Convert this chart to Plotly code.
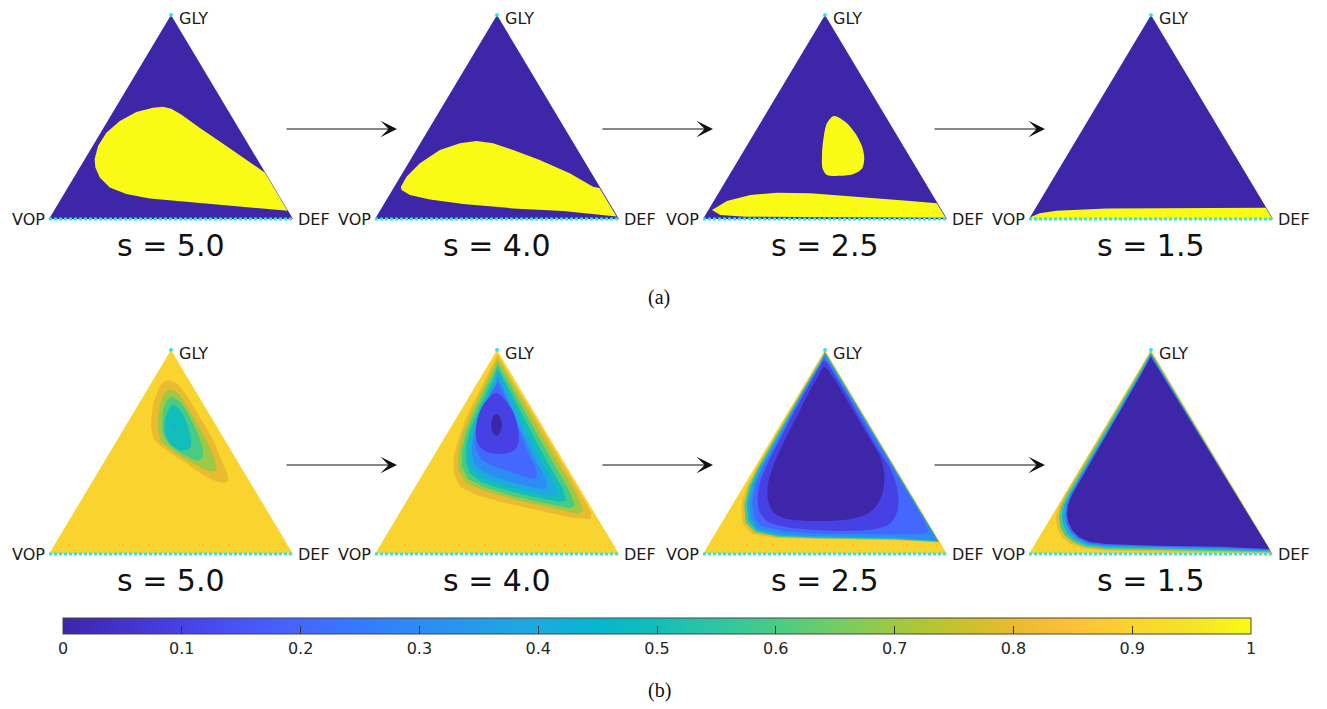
import plotly.graph_objects as go
from plotly.colors import sample_colorscale

# ------------------------------------------------------------------ data
S_VALUES = ["5.0", "4.0", "2.5", "1.5"]
CORNER_LABELS = ("VOP", "DEF", "GLY")
CBAR_TICKVALS = [0, 0.1, 0.2, 0.3, 0.4, 0.5, 0.6, 0.7, 0.8, 0.9, 1]
CBAR_TICKTEXT = ["0", "0.1", "0.2", "0.3", "0.4", "0.5", "0.6", "0.7", "0.8", "0.9", "1"]

# simplex vertices (VOP, DEF, GLY) in projection coords: x along VOP->DEF, y = GLY share
SIMPLEX = [(0.0, 0.0), (1.0, 0.0), (0.5, 1.0)]

# ---- row (a): regions where the indicator equals 1 (yellow); rest is 0
A50_YELLOW = [(.187, .293), (.201, .358), (.235, .423), (.290, .480), (.358, .524), (.426, .545),
              (.467, .550), (.501, .540), (.542, .512), (.617, .447), (.727, .358), (.822, .280),
              (.884, .228), (.978, .040), (.754, .065), (.549, .086), (.413, .101), (.317, .122),
              (.249, .154), (.208, .203), (.190, .252)]
A40_YELLOW = [(.106, .158), (.130, .208), (.184, .273), (.266, .338), (.348, .371), (.416, .382),
              (.484, .371), (.566, .338), (.675, .289), (.798, .224), (.894, .158), (.920, .152),
              (.990, .012), (.771, .039), (.566, .052), (.362, .074), (.225, .096), (.143, .118),
              (.109, .142)]
A25_YELLOW_TOP = [(.536, .505), (.583, .477), (.624, .420), (.652, .355), (.661, .297), (.652, .248),
                  (.617, .221), (.563, .212), (.508, .216), (.490, .248), (.488, .322), (.495, .404),
                  (.508, .469)]
A25_YELLOW_BOTTOM = [(.037, .044), (.098, .088), (.194, .118), (.303, .129), (.440, .126), (.577, .114),
                     (.713, .101), (.850, .088), (.958, .077), (.994, .006), (.800, .007), (.500, .008),
                     (.300, .010), (.174, .011), (.071, .020)]
A15_YELLOW = [(.006, .004), (.010, .011), (.044, .028), (.112, .041), (.317, .051), (.590, .052),
              (.795, .051), (.966, .052), (.970, .055), (.998, .000), (.006, .000)]

# ---- row (b): filled contour regions (value below level+0.1), coloured by level
B50_L08 = [(.488, .850), (.522, .837), (.563, .779), (.617, .673), (.672, .559), (.713, .444),
           (.734, .379), (.731, .355), (.706, .350), (.645, .379), (.563, .444), (.481, .510),
           (.433, .559), (.419, .624), (.426, .722), (.447, .804), (.467, .840)]
B50_L07 = [(.494, .807), (.535, .779), (.590, .673), (.645, .559), (.679, .461), (.686, .412),
           (.665, .404), (.604, .436), (.522, .493), (.460, .551), (.447, .624), (.454, .722),
           (.470, .779)]
B50_L06 = [(.501, .771), (.542, .739), (.590, .641), (.624, .542), (.631, .477), (.611, .458),
           (.556, .485), (.495, .534), (.467, .592), (.467, .690), (.481, .747)]
B50_L05 = [(.508, .730), (.542, .698), (.570, .624), (.583, .559), (.576, .518), (.542, .507),
           (.495, .542), (.474, .608), (.481, .681)]
B50_L04 = [(.519, .624), (.511, .637), (.503, .624), (.511, .611)]

B40_L08 = [(.502, .980), (.574, .828), (.664, .654), (.761, .458), (.843, .294), (.887, .203),
           (.883, .170), (.798, .180), (.662, .216), (.525, .253), (.416, .289), (.348, .330),
           (.323, .395), (.323, .477), (.341, .559), (.375, .673), (.423, .788), (.471, .902)]
B40_L07 = [(.502, .959), (.569, .820), (.655, .644), (.746, .458), (.825, .297), (.853, .216),
           (.836, .196), (.716, .229), (.580, .265), (.457, .306), (.375, .346), (.341, .412),
           (.341, .493), (.361, .592), (.400, .706), (.446, .820), (.484, .910)]
B40_L06 = [(.502, .935), (.561, .812), (.643, .632), (.727, .453), (.798, .306), (.819, .235),
           (.798, .224), (.682, .252), (.559, .286), (.450, .327), (.382, .366), (.356, .428),
           (.356, .507), (.375, .600), (.412, .706), (.454, .812), (.487, .889)]
B40_L05 = [(.502, .915), (.552, .801), (.627, .624), (.705, .453), (.771, .317), (.782, .261),
           (.757, .255), (.648, .281), (.525, .317), (.437, .350), (.389, .395), (.371, .453),
           (.372, .526), (.390, .608), (.427, .714), (.465, .812), (.491, .873)]
B40_L04 = [(.502, .894), (.546, .788), (.610, .624), (.681, .458), (.741, .330), (.748, .286),
           (.716, .284), (.621, .307), (.512, .343), (.437, .376), (.396, .425), (.385, .480),
           (.389, .549), (.407, .624), (.441, .722), (.475, .807), (.494, .856)]
B40_L03 = [(.502, .869), (.539, .775), (.593, .624), (.651, .477), (.700, .363), (.703, .320),
           (.668, .322), (.587, .343), (.498, .376), (.437, .409), (.405, .453), (.397, .510),
           (.402, .572), (.420, .641), (.450, .726), (.479, .799), (.497, .840)]
B40_L02 = [(.502, .837), (.536, .763), (.580, .641), (.623, .510), (.662, .404), (.659, .371),
           (.621, .376), (.553, .404), (.484, .431), (.439, .461), (.416, .507), (.411, .567),
           (.417, .632), (.439, .706), (.468, .775), (.491, .817)]
B40_L01 = [(.498, .791), (.536, .752), (.569, .690), (.587, .608), (.588, .543), (.569, .507),
           (.514, .490), (.460, .500), (.426, .531), (.413, .588), (.419, .660), (.441, .726),
           (.469, .768)]
B40_L00 = [(.521, .632), (.509, .587), (.498, .580), (.486, .587), (.475, .632), (.486, .678),
           (.498, .685), (.509, .678)]

B25_L08 = [(.500, .995), (.970, .056), (.781, .067), (.617, .070), (.454, .072), (.296, .078),
           (.201, .098), (.163, .147), (.157, .239), (.178, .327), (.219, .422), (.273, .536),
           (.342, .675), (.414, .819), (.473, .940)]
B25_L06 = [(.500, .990), (.967, .059), (.781, .072), (.617, .075), (.454, .077), (.303, .085),
           (.212, .108), (.175, .154), (.169, .242), (.187, .330), (.225, .423), (.280, .538),
           (.347, .677), (.417, .820), (.476, .938)]
B25_L04 = [(.500, .985), (.964, .062), (.781, .075), (.617, .078), (.454, .082), (.310, .090),
           (.221, .114), (.186, .160), (.180, .245), (.197, .333), (.232, .425), (.287, .539),
           (.352, .678), (.419, .820), (.479, .935)]
B25_L03 = [(.500, .980), (.962, .065), (.781, .082), (.617, .085), (.454, .088), (.317, .098),
           (.227, .121), (.197, .170), (.191, .248), (.208, .333), (.240, .428), (.294, .543),
           (.358, .681), (.423, .820), (.478, .927)]
B25_L02 = [(.497, .967), (.557, .853), (.653, .665), (.754, .469), (.836, .306), (.904, .167),
           (.925, .109), (.891, .098), (.781, .096), (.617, .098), (.454, .101), (.331, .113),
           (.235, .137), (.208, .183), (.202, .257), (.214, .338), (.250, .436), (.301, .543),
           (.363, .681), (.429, .820), (.473, .902)]
B25_L01 = [(.497, .948), (.549, .861), (.631, .693), (.713, .523), (.775, .399), (.798, .310),
           (.798, .216), (.768, .150), (.699, .121), (.590, .113), (.454, .118), (.344, .131),
           (.265, .159), (.232, .208), (.224, .281), (.235, .355), (.265, .444), (.314, .559),
           (.372, .693), (.433, .824), (.474, .910)]
B25_L00 = [(.497, .918), (.536, .861), (.604, .726), (.672, .588), (.727, .474), (.743, .392),
           (.738, .310), (.716, .245), (.672, .196), (.604, .172), (.508, .162), (.413, .163),
           (.333, .175), (.286, .208), (.265, .273), (.268, .355), (.292, .444), (.336, .559),
           (.388, .681), (.436, .796), (.473, .873)]

B15_L08 = [(.499, .995), (.994, .005), (.795, .008), (.522, .011), (.317, .016), (.221, .028),
           (.167, .052), (.133, .085), (.116, .126), (.109, .175), (.122, .232), (.150, .297),
           (.208, .412), (.307, .608), (.388, .771), (.454, .902)]
B15_L06 = [(.499, .990), (.992, .008), (.795, .013), (.522, .018), (.317, .025), (.228, .036),
           (.178, .060), (.145, .093), (.128, .134), (.123, .180), (.131, .232), (.157, .294),
           (.213, .408), (.311, .605), (.392, .768), (.456, .899)]
B15_L04 = [(.499, .984), (.990, .013), (.795, .020), (.522, .026), (.317, .033), (.235, .044),
           (.187, .069), (.157, .101), (.141, .142), (.135, .183), (.142, .235), (.165, .292),
           (.219, .405), (.316, .601), (.395, .765), (.459, .895)]
B15_L02 = [(.499, .977), (.988, .018), (.795, .028), (.522, .034), (.317, .042), (.242, .052),
           (.197, .077), (.169, .109), (.153, .150), (.148, .191), (.153, .240), (.172, .294),
           (.224, .404), (.320, .598), (.398, .761), (.462, .892)]
B15_L00 = [(.499, .967), (.985, .025), (.795, .036), (.522, .041), (.317, .049), (.249, .059),
           (.205, .082), (.178, .114), (.161, .154), (.156, .194), (.160, .243), (.178, .294),
           (.230, .402), (.324, .595), (.402, .758), (.464, .889)]

# panels: (background value, [(value, region, closed-curve interior?), ...])
ROW_A = [
    (0.0, [(1.0, A50_YELLOW, False)]),
    (0.0, [(1.0, A40_YELLOW, False)]),
    (0.0, [(1.0, A25_YELLOW_TOP, True), (1.0, A25_YELLOW_BOTTOM, False)]),
    (0.0, [(1.0, A15_YELLOW, False)]),
]
ROW_B = [
    (0.9, [(0.8, B50_L08, True), (0.7, B50_L07, True), (0.6, B50_L06, True),
           (0.5, B50_L05, True), (0.4, B50_L04, True)]),
    (0.9, [(0.8, B40_L08, False), (0.7, B40_L07, False), (0.6, B40_L06, False),
           (0.5, B40_L05, False), (0.4, B40_L04, True), (0.3, B40_L03, True),
           (0.2, B40_L02, True), (0.1, B40_L01, True), (0.0, B40_L00, True)]),
    (0.9, [(0.8, B25_L08, False), (0.6, B25_L06, False), (0.4, B25_L04, False),
           (0.3, B25_L03, False), (0.2, B25_L02, False), (0.1, B25_L01, True),
           (0.0, B25_L00, True)]),
    (0.9, [(0.8, B15_L08, False), (0.6, B15_L06, False), (0.4, B15_L04, False),
           (0.2, B15_L02, False), (0.0, B15_L00, False)]),
]

# ------------------------------------------------------------------ style
PARULA = [
    [0.00, "rgb(62,38,168)"], [0.05, "rgb(67,50,203)"], [0.10, "rgb(71,65,229)"],
    [0.15, "rgb(71,85,246)"], [0.20, "rgb(68,103,253)"], [0.25, "rgb(52,122,253)"],
    [0.30, "rgb(45,140,243)"], [0.35, "rgb(37,155,232)"], [0.40, "rgb(28,170,223)"],
    [0.45, "rgb(5,182,206)"], [0.50, "rgb(18,190,185)"], [0.55, "rgb(47,197,162)"],
    [0.60, "rgb(72,203,134)"], [0.65, "rgb(114,205,100)"], [0.70, "rgb(157,201,67)"],
    [0.75, "rgb(197,194,42)"], [0.80, "rgb(234,186,48)"], [0.85, "rgb(254,192,58)"],
    [0.90, "rgb(250,212,46)"], [0.95, "rgb(245,226,40)"], [1.00, "rgb(249,251,21)"],
]
CYAN = "#2fe3f2"
FIG_W, FIG_H = 1327, 709
OFF = 8  # page body margin
PANEL_LEFT = [49, 375, 703, 1029]
PANEL_W = 244
ROW_BASE = [219, 554]
ROW_APEX = [15, 350]
PAD_X = 0.04
PAD_LO = 0.04
PAD_HI = 0.02
LABEL_FONT = dict(family="DejaVu Sans", size=16, color="#1a1a1a")
S_FONT = dict(family="DejaVu Sans", size=30, color="#111111")


def px_x(x):
    return min(1.0, max(0.0, (x - OFF) / FIG_W))


def px_y(y):
    return min(1.0, max(0.0, 1 - (y - OFF) / FIG_H))


def pcolor(v):
    return sample_colorscale(PARULA, [v])[0]


fig = go.Figure()
annotations = []
axes = {}

for row, panels in enumerate([ROW_A, ROW_B]):
    for col, (bg, regions) in enumerate(panels):
        n = row * 4 + col + 1
        sx = "" if n == 1 else str(n)
        L = PANEL_LEFT[col]
        base, apex = ROW_BASE[row], ROW_APEX[row]
        H = base - apex
        axes["xaxis" + sx] = dict(
            domain=[px_x(L - PAD_X * PANEL_W), px_x(L + PANEL_W + PAD_X * PANEL_W)],
            range=[-PAD_X, 1 + PAD_X], visible=False, fixedrange=True, anchor="y" + sx)
        axes["yaxis" + sx] = dict(
            domain=[px_y(base + PAD_LO * H), px_y(apex - PAD_HI * H)],
            range=[-PAD_LO, 1 + PAD_HI], visible=False, fixedrange=True, anchor="x" + sx)
        xr, yr = "x" + sx, "y" + sx

        # triangle background
        fig.add_trace(go.Scatter(
            x=[p[0] for p in SIMPLEX], y=[p[1] for p in SIMPLEX], xaxis=xr, yaxis=yr,
            mode="lines", fill="toself", fillcolor=pcolor(bg), line=dict(width=0),
            hoverinfo="skip", showlegend=False))
        # regions
        for val, poly, smooth in regions:
            xs = [p[0] for p in poly]
            ys = [p[1] for p in poly]
            if smooth:
                xs = xs + xs[:1]
                ys = ys + ys[:1]
            fig.add_trace(go.Scatter(
                x=xs, y=ys, xaxis=xr, yaxis=yr,
                mode="lines", fill="toself", fillcolor=pcolor(val),
                line=dict(width=0, shape="spline" if smooth else "linear", smoothing=0.8),
                hoverinfo="skip", showlegend=False))
        # dotted boundary (VOP-DEF edge) and apex mark
        fig.add_trace(go.Scatter(
            x=[SIMPLEX[0][0], SIMPLEX[1][0]], y=[SIMPLEX[0][1], SIMPLEX[1][1]],
            xaxis=xr, yaxis=yr, mode="lines",
            line=dict(color=CYAN, width=3, dash="3px,2px"),
            hoverinfo="skip", showlegend=False))
        fig.add_trace(go.Scatter(
            x=[SIMPLEX[2][0]], y=[SIMPLEX[2][1]], xaxis=xr, yaxis=yr, mode="markers",
            marker=dict(color=CYAN, size=4), cliponaxis=False,
            hoverinfo="skip", showlegend=False))

        # corner labels
        annotations.append(dict(x=SIMPLEX[0][0], y=SIMPLEX[0][1], xref=xr, yref=yr,
                                text=CORNER_LABELS[0], showarrow=False, xanchor="right",
                                yanchor="middle", xshift=-2, font=LABEL_FONT))
        annotations.append(dict(x=SIMPLEX[1][0], y=SIMPLEX[1][1], xref=xr, yref=yr,
                                text=CORNER_LABELS[1], showarrow=False, xanchor="left",
                                yanchor="middle", xshift=3, font=LABEL_FONT))
        annotations.append(dict(x=SIMPLEX[2][0], y=SIMPLEX[2][1], xref=xr, yref=yr,
                                text=CORNER_LABELS[2], showarrow=False, xanchor="left",
                                yanchor="middle", xshift=6, yshift=-3, font=LABEL_FONT))
        annotations.append(dict(x=0.5, y=0, xref=xr, yref=yr,
                                text="s = " + S_VALUES[col], showarrow=False,
                                xanchor="center", yanchor="middle", yshift=-26, font=S_FONT))

# arrows between panels
ARROW_TIP_X = [397, 713, 1045]
ARROW_Y = [129, 465]
for ay_px in ARROW_Y:
    for tx in ARROW_TIP_X:
        annotations.append(dict(x=px_x(tx), y=px_y(ay_px), xref="paper", yref="paper",
                                text="", showarrow=True, ax=-112, ay=0, arrowhead=3,
                                arrowsize=2.3, arrowwidth=1.2, arrowcolor="#111111",
                                standoff=0))

# captions
CAPTION_FONT = dict(family="Liberation Serif", size=20, color="#111111")
annotations.append(dict(x=px_x(659), y=px_y(297), xref="paper", yref="paper",
                        xanchor="center", yanchor="middle",
                        text="(a)", showarrow=False, font=CAPTION_FONT))
annotations.append(dict(x=px_x(659), y=px_y(690), xref="paper", yref="paper",
                        xanchor="center", yanchor="middle",
                        text="(b)", showarrow=False, font=CAPTION_FONT))

# colour bar
fig.add_trace(go.Scatter(
    x=[0.5], y=[0.5], xaxis="x", yaxis="y", mode="markers", hoverinfo="skip",
    showlegend=False,
    marker=dict(size=1, opacity=0, color=[0.5], cmin=0, cmax=1, colorscale=PARULA,
                showscale=True,
                colorbar=dict(orientation="h", x=px_x((63 + 1251) / 2), xanchor="center",
                              y=px_y(618), yanchor="top", xref="paper", yref="paper",
                              lenmode="pixels", len=1188, thickness=16,
                              outlinewidth=1, outlinecolor="#444444",
                              ticks="inside", ticklen=8, tickcolor="#333333", tickwidth=1,
                              tickvals=CBAR_TICKVALS, ticktext=CBAR_TICKTEXT,
                              tickfont=dict(family="DejaVu Sans", size=16, color="#262626"),
                              xpad=0, ypad=0))))

fig.update_layout(width=FIG_W, height=FIG_H, margin=dict(l=0, r=0, t=0, b=0),
                  paper_bgcolor="white", plot_bgcolor="rgba(0,0,0,0)", showlegend=False,
                  annotations=annotations, **axes)

fig.write_html("out.html")
